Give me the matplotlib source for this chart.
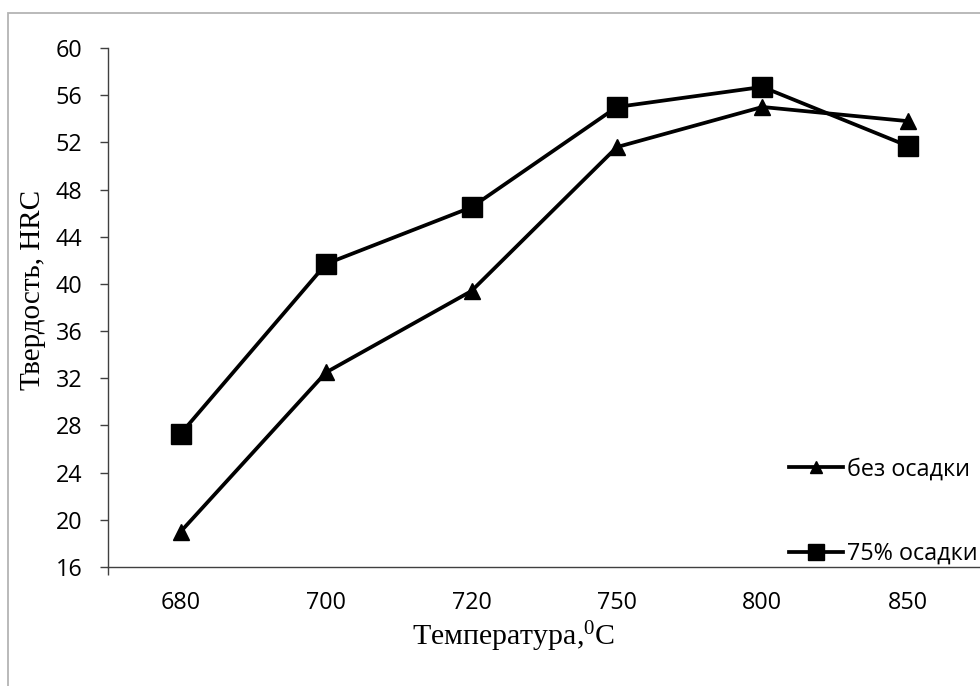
import matplotlib
matplotlib.use("Agg")
import matplotlib.pyplot as plt
from matplotlib.patches import Rectangle

# Hardness vs. heat-treatment temperature
temperatures = ["680", "700", "720", "750", "800", "850"]
no_upset = [19.0, 32.5, 39.4, 51.6, 55.0, 53.8]
upset_75 = [27.3, 41.7, 46.5, 55.0, 56.7, 51.7]
series_labels = ["без осадки", "75% осадки"]
y_ticks = [16, 20, 24, 28, 32, 36, 40, 44, 48, 52, 56, 60]

plt.rcParams["mathtext.fontset"] = "custom"
plt.rcParams["mathtext.rm"] = "Liberation Serif"

W, H = 980, 686
fig = plt.figure(figsize=(W / 100, H / 100), dpi=100)

def fx(px):
    return px / W

def fy(py):
    return 1 - py / H

# outer chart-area border
fig.patches.append(Rectangle((fx(8), fy(700)), fx(1000) - fx(8), fy(13) - fy(700),
                             transform=fig.transFigure, fill=False,
                             edgecolor="#b4b4b4", linewidth=1.3))

ax = fig.add_axes([fx(108), fy(567), fx(980.4) - fx(108), fy(48) - fy(567)])
x = range(len(temperatures))

ax.plot(x, no_upset, color="black", linewidth=2.7, marker="^", markersize=11,
        label=series_labels[0], clip_on=False)
ax.plot(x, upset_75, color="black", linewidth=2.7, marker="s", markersize=14,
        label=series_labels[1], clip_on=False)

ax.set_xlim(-0.5, len(temperatures) - 0.5)
ax.set_ylim(16, 60)
ax.set_yticks(y_ticks)
ax.set_xticks(list(x))
ax.set_xticklabels(temperatures)
ax.set_xticks([-0.5], minor=True)

for lab in ax.get_xticklabels() + ax.get_yticklabels():
    lab.set_fontfamily("Open Sans")
    lab.set_fontsize(16.8)

ax.tick_params(axis="y", direction="out", length=6, width=1.0, color="#404040", pad=12.5)
ax.tick_params(axis="x", which="major", length=0, pad=17.5)
ax.tick_params(axis="x", which="minor", direction="out", length=6, width=1.0, color="#404040")

for side in ("top", "right"):
    ax.spines[side].set_visible(False)
for side in ("left", "bottom"):
    ax.spines[side].set_color("#404040")
    ax.spines[side].set_linewidth(1.0)

fig.text(fx(33), fy(290), "Твердость, HRC", rotation=90, ha="center", va="center",
         family="Liberation Serif", fontsize=21)
fig.text(fx(514), fy(637), r"Температура,$\mathregular{^0}$C", ha="center", va="center",
         family="Liberation Serif", fontsize=21.5)

leg = ax.legend(loc="center left", bbox_to_anchor=(fx(789), fy(511.5)),
                bbox_transform=fig.transFigure, frameon=False, borderpad=0,
                borderaxespad=0, handlelength=2.3, handletextpad=0.2,
                labelspacing=2.6, prop=dict(family="Open Sans", size=16.8),
                markerscale=0.85)

fig.savefig("out.png", dpi=100)
